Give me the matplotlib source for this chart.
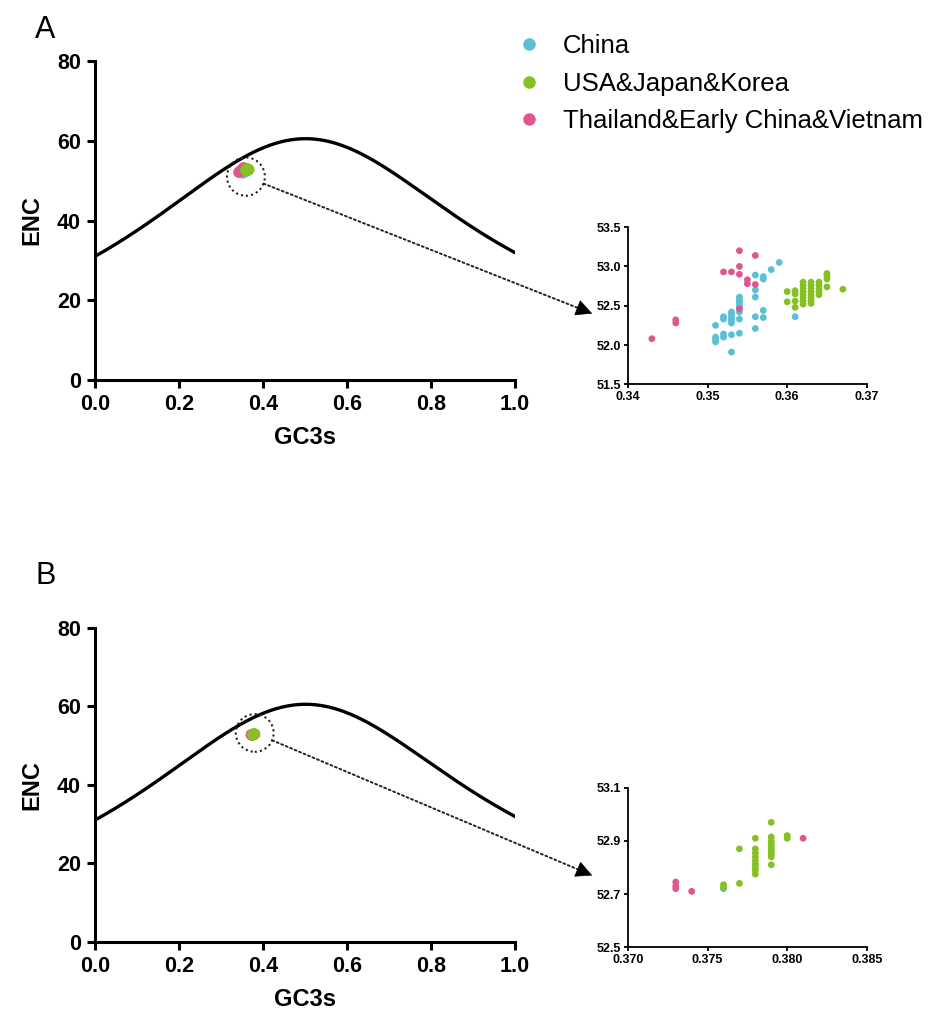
import numpy as np
import matplotlib
matplotlib.use('Agg')
from matplotlib import pyplot as plt
from matplotlib.patches import Ellipse, FancyArrowPatch
from matplotlib.transforms import IdentityTransform

plt.rcParams['font.family'] = ['Liberation Sans', 'DejaVu Sans']

blue = '#5bbfd5'
green = '#86c023'
pink = '#e0578f'
names = ['China', 'USA&Japan&Korea', 'Thailand&Early China&Vietnam']

# panel A data (GC3s, ENC)
a_china_x = [0.351, 0.351, 0.351, 0.351, 0.352, 0.352, 0.352, 0.352,
             0.353, 0.353, 0.353, 0.353, 0.353, 0.353, 0.353,
             0.354, 0.354, 0.354, 0.354, 0.354, 0.354, 0.354, 0.354,
             0.356, 0.356, 0.356, 0.356, 0.356,
             0.357, 0.357, 0.357, 0.357, 0.358, 0.359, 0.361]
a_china_y = [52.25, 52.10, 52.07, 52.04, 52.36, 52.33, 52.14, 52.10,
             52.42, 52.39, 52.35, 52.32, 52.28, 52.13, 51.91,
             52.61, 52.57, 52.54, 52.50, 52.47, 52.42, 52.33, 52.15,
             52.89, 52.70, 52.61, 52.36, 52.21,
             52.87, 52.84, 52.44, 52.35, 52.96, 53.05, 52.36]
a_usa_x = [0.360, 0.360, 0.361, 0.361, 0.361, 0.361,
           0.362, 0.362, 0.362, 0.362, 0.362, 0.362, 0.362, 0.362,
           0.363, 0.363, 0.363, 0.363, 0.363, 0.363, 0.363, 0.363,
           0.364, 0.364, 0.364, 0.364, 0.364,
           0.365, 0.365, 0.365, 0.365, 0.367]
a_usa_y = [52.68, 52.55, 52.69, 52.65, 52.56, 52.48,
           52.80, 52.76, 52.72, 52.68, 52.64, 52.60, 52.56, 52.52,
           52.80, 52.76, 52.72, 52.68, 52.64, 52.60, 52.56, 52.53,
           52.80, 52.76, 52.72, 52.68, 52.64,
           52.91, 52.88, 52.84, 52.74, 52.71]
a_thai_x = [0.343, 0.346, 0.346, 0.352, 0.353, 0.354, 0.354, 0.354, 0.354,
            0.355, 0.355, 0.356, 0.356]
a_thai_y = [52.08, 52.32, 52.28, 52.93, 52.93, 53.20, 53.00, 52.90, 52.46,
            52.83, 52.78, 53.14, 52.77]

# panel B data
b_china_x = [0.376, 0.378]
b_china_y = [52.72, 52.81]
b_usa_x = [0.376, 0.376, 0.377, 0.377,
           0.378, 0.378, 0.378, 0.378, 0.378, 0.378, 0.378, 0.378, 0.378,
           0.379, 0.379, 0.379, 0.379, 0.379, 0.379, 0.379, 0.379, 0.379, 0.379,
           0.380, 0.380]
b_usa_y = [52.735, 52.725, 52.87, 52.74,
           52.91, 52.87, 52.855, 52.84, 52.825, 52.81, 52.80, 52.79, 52.775,
           52.97, 52.915, 52.90, 52.89, 52.88, 52.87, 52.86, 52.85, 52.84, 52.81,
           52.92, 52.91]
b_thai_x = [0.373, 0.373, 0.373, 0.374, 0.381]
b_thai_y = [52.745, 52.73, 52.72, 52.71, 52.91]

main_xticks = [0.0, 0.2, 0.4, 0.6, 0.8, 1.0]
main_yticks = [0, 20, 40, 60, 80]

# expected ENC curve: 2 + s + 29 / (s^2 + (1 - s)^2)
gc3 = np.linspace(0, 1, 300)
enc_exp = 2 + gc3 + 29 / (gc3 ** 2 + (1 - gc3) ** 2)

fig = plt.figure(figsize=(9.29, 10.14), dpi=100)


def main_panel(rect, sets, circ, label, lab_y):
    ax = fig.add_axes(rect)
    ax.plot(gc3, enc_exp, color='black', lw=2.4, zorder=2)
    for (x, y), c in zip(sets, [blue, pink, green]):
        ax.scatter(x, y, s=65, color=c, edgecolors='none', zorder=3)
    ax.add_patch(Ellipse(circ, 0.09, 9.6, fill=False, ls=(0, (1, 1.5)),
                         lw=1.5, color='#222222', zorder=4))
    ax.set_xlim(0, 1)
    ax.set_ylim(0, 80)
    ax.set_xticks(main_xticks)
    ax.set_yticks(main_yticks)
    ax.set_xticklabels(['%.1f' % t for t in main_xticks])
    for s in ['top', 'right']:
        ax.spines[s].set_visible(False)
    for s in ['left', 'bottom']:
        ax.spines[s].set_linewidth(2.2)
    ax.tick_params(width=2.2, length=6, labelsize=15.5, pad=4)
    for t in ax.get_xticklabels() + ax.get_yticklabels():
        t.set_fontweight('bold')
    ax.set_xlabel('GC3s', fontsize=17, fontweight='bold', labelpad=8)
    ax.set_ylabel('ENC', fontsize=17, fontweight='bold', labelpad=10)
    fig.text(0.038, lab_y, label, fontsize=22, va='center')
    return ax


def inset_panel(rect, sets, xlim, ylim, xticks, yticks, xfmt, yfmt):
    ax = fig.add_axes(rect)
    for (x, y), c in zip(sets, [blue, pink, green]):
        ax.scatter(x, y, s=24, color=c, edgecolors='none', zorder=3)
    ax.set_xlim(*xlim)
    ax.set_ylim(*ylim)
    ax.set_xticks(xticks)
    ax.set_yticks(yticks)
    ax.set_xticklabels([xfmt % t for t in xticks])
    ax.set_yticklabels([yfmt % t for t in yticks])
    for s in ['top', 'right']:
        ax.spines[s].set_visible(False)
    for s in ['left', 'bottom']:
        ax.spines[s].set_linewidth(1.3)
    ax.tick_params(width=1.3, length=3, labelsize=9, pad=2)
    for t in ax.get_xticklabels() + ax.get_yticklabels():
        t.set_fontweight('bold')
    return ax


setsA = [(a_china_x, a_china_y), (a_thai_x, a_thai_y), (a_usa_x, a_usa_y)]
setsB = [(b_china_x, b_china_y), (b_thai_x, b_thai_y), (b_usa_x, b_usa_y)]
circA = (0.36, 51.0)
circB = (0.381, 53.2)

axA = main_panel([0.102, 0.625, 0.452, 0.315], setsA, circA, 'A', 0.970)
axB = main_panel([0.102, 0.071, 0.452, 0.310], setsB, circB, 'B', 0.432)

insA = inset_panel([0.676, 0.621, 0.257, 0.155], setsA, (0.34, 0.37), (51.5, 53.5),
                   [0.34, 0.35, 0.36, 0.37], [51.5, 52.0, 52.5, 53.0, 53.5],
                   '%.2f', '%.1f')
insB = inset_panel([0.676, 0.066, 0.257, 0.157], setsB, (0.370, 0.385), (52.5, 53.1),
                   [0.370, 0.375, 0.380, 0.385], [52.5, 52.7, 52.9, 53.1],
                   '%.3f', '%.1f')

# dotted pointer from the circled cluster to each zoomed panel
for ax, ins, c in [(axA, insA, circA), (axB, insB, circB)]:
    p0 = ax.transData.transform(c)
    p1 = ins.transAxes.transform((-0.15, 0.45))
    d = (p1 - p0) / np.hypot(*(p1 - p0))
    start = p0 + d * 19
    neck = p1 - d * 10
    fig.add_artist(FancyArrowPatch(start, neck, transform=IdentityTransform(),
                                   arrowstyle='-', ls=(0, (1, 1.5)), lw=1.4,
                                   color='#222222', shrinkA=0, shrinkB=0))
    fig.add_artist(FancyArrowPatch(neck - d * 2, p1, transform=IdentityTransform(),
                                   arrowstyle='-|>,head_length=0.9,head_width=0.45',
                                   mutation_scale=12, lw=0.5, color='black',
                                   shrinkA=0, shrinkB=0))

handles = [plt.Line2D([], [], ls='none', marker='o', ms=9, mfc=c, mec='none')
           for c in [blue, green, pink]]
fig.legend(handles, names, loc='upper left', bbox_to_anchor=(0.556, 0.966),
           frameon=False, fontsize=18.5, handlelength=1.0, handletextpad=0.8,
           borderpad=0, borderaxespad=0, labelspacing=0.52)

fig.savefig('out.png', dpi=100)
